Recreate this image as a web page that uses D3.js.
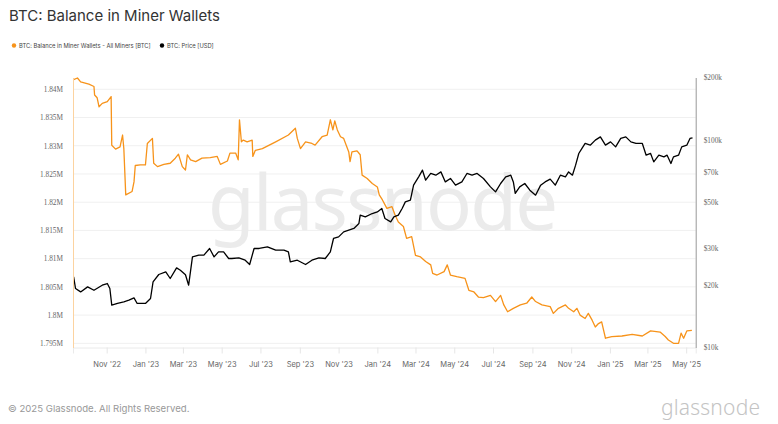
<!DOCTYPE html>
<html>
<head>
<meta charset="utf-8">
<script src="https://cdn.jsdelivr.net/npm/d3@7"></script>
<style>
  body { margin: 0; background: #fff; }
</style>
</head>
<body>
<div id="chart"></div>
<script>
"use strict";

// BTC held in miner wallets (left axis)
const balanceDates = [
    "2022-09-10", "2022-09-16", "2022-09-21", "2022-10-04", "2022-10-12", "2022-10-13",
    "2022-10-17", "2022-10-20", "2022-10-25", "2022-11-02", "2022-11-08", "2022-11-09",
    "2022-11-15", "2022-11-22", "2022-11-26", "2022-11-28", "2022-12-01", "2022-12-11",
    "2022-12-14", "2022-12-16", "2022-12-24", "2023-01-01", "2023-01-04", "2023-01-12",
    "2023-01-14", "2023-01-20", "2023-01-30", "2023-02-09", "2023-02-17", "2023-02-22",
    "2023-02-28", "2023-03-05", "2023-03-08", "2023-03-13", "2023-03-21", "2023-03-31",
    "2023-04-13", "2023-04-24", "2023-04-29", "2023-05-10", "2023-05-14", "2023-05-23",
    "2023-05-27", "2023-05-29", "2023-06-01", "2023-06-04", "2023-06-10", "2023-06-18",
    "2023-06-19", "2023-06-23", "2023-07-04", "2023-07-25", "2023-08-14", "2023-08-25",
    "2023-08-28", "2023-09-02", "2023-09-10", "2023-09-20", "2023-09-25", "2023-10-06",
    "2023-10-14", "2023-10-19", "2023-10-23", "2023-10-26", "2023-10-30", "2023-11-04",
    "2023-11-09", "2023-11-13", "2023-11-17", "2023-11-19", "2023-11-22", "2023-11-30",
    "2023-12-05", "2023-12-08", "2023-12-16", "2023-12-24", "2024-01-01", "2024-01-04",
    "2024-01-09", "2024-01-16", "2024-01-24", "2024-01-29", "2024-02-03", "2024-02-11",
    "2024-02-16", "2024-02-24", "2024-03-01", "2024-03-09", "2024-03-17", "2024-03-25",
    "2024-03-28", "2024-04-04", "2024-04-15", "2024-04-20", "2024-04-25", "2024-05-05",
    "2024-05-18", "2024-05-24", "2024-06-01", "2024-06-08", "2024-06-16", "2024-06-27",
    "2024-07-05", "2024-07-13", "2024-07-18", "2024-07-24", "2024-08-02", "2024-08-13",
    "2024-08-23", "2024-08-31", "2024-09-06", "2024-09-16", "2024-09-29", "2024-10-04",
    "2024-10-12", "2024-10-23", "2024-10-28", "2024-11-05", "2024-11-10", "2024-11-15",
    "2024-11-23", "2024-11-28", "2024-12-04", "2024-12-09", "2024-12-14", "2024-12-19",
    "2024-12-25", "2025-01-04", "2025-01-20", "2025-02-05", "2025-02-21", "2025-03-06",
    "2025-03-21", "2025-03-29", "2025-04-03", "2025-04-11", "2025-04-19", "2025-04-23",
    "2025-04-27", "2025-05-02", "2025-05-10"
];
const balanceValues = [
    1841700, 1842000, 1841300, 1840900, 1840500, 1839000,
    1838500, 1836900, 1837500, 1837800, 1838700, 1830100,
    1829400, 1829800, 1831900, 1829500, 1821300, 1821900,
    1823600, 1826500, 1826600, 1826600, 1830400, 1831300,
    1826900, 1826300, 1826700, 1826900, 1827800, 1828500,
    1826300, 1825700, 1828400, 1827500, 1827200, 1827800,
    1827900, 1828100, 1826700, 1827300, 1828700, 1828700,
    1827500, 1834600, 1830700, 1831000, 1830700, 1831000,
    1828100, 1829200, 1829500, 1830700, 1831900, 1833100,
    1831300, 1829500, 1830700, 1830400, 1830100, 1831600,
    1831900, 1834600, 1832800, 1834400, 1832800, 1831600,
    1831300, 1830100, 1828900, 1827200, 1828900, 1829100,
    1828400, 1824800, 1824200, 1823300, 1822700, 1821300,
    1820400, 1818900, 1819200, 1817700, 1816500, 1815700,
    1813600, 1813900, 1810600, 1810300, 1809500, 1808900,
    1807400, 1807100, 1807700, 1808900, 1807100, 1806800,
    1806500, 1804400, 1804100, 1803200, 1803100, 1803500,
    1802400, 1803500, 1801800, 1800600, 1801200, 1801800,
    1802100, 1803200, 1802400, 1801800, 1801500, 1800300,
    1801200, 1801800, 1801200, 1800600, 1801200, 1800000,
    1799400, 1800300, 1799100, 1797900, 1798500, 1798800,
    1795900, 1796200, 1796300, 1796600, 1796300, 1797200,
    1797000, 1796200, 1795600, 1795000, 1795000, 1796800,
    1795900, 1797200, 1797300
];

// BTC price in USD (right axis, log)
const priceDates = [
    "2022-09-10", "2022-09-13", "2022-09-21", "2022-10-02", "2022-10-12", "2022-10-25",
    "2022-11-02", "2022-11-06", "2022-11-09", "2022-11-18", "2022-11-28", "2022-12-06",
    "2022-12-14", "2022-12-19", "2023-01-01", "2023-01-09", "2023-01-13", "2023-01-22",
    "2023-02-02", "2023-02-09", "2023-02-19", "2023-02-25", "2023-03-05", "2023-03-10",
    "2023-03-16", "2023-03-26", "2023-04-03", "2023-04-12", "2023-04-19", "2023-04-26",
    "2023-05-04", "2023-05-12", "2023-05-17", "2023-05-28", "2023-06-07", "2023-06-14",
    "2023-06-21", "2023-06-29", "2023-07-12", "2023-07-25", "2023-08-07", "2023-08-14",
    "2023-08-17", "2023-08-28", "2023-09-10", "2023-09-20", "2023-10-01", "2023-10-11",
    "2023-10-19", "2023-10-24", "2023-11-01", "2023-11-09", "2023-11-17", "2023-11-25",
    "2023-12-03", "2023-12-05", "2023-12-13", "2023-12-24", "2024-01-01", "2024-01-08",
    "2024-01-13", "2024-01-22", "2024-01-27", "2024-02-03", "2024-02-09", "2024-02-14",
    "2024-02-22", "2024-02-27", "2024-03-06", "2024-03-12", "2024-03-17", "2024-03-25",
    "2024-04-02", "2024-04-10", "2024-04-17", "2024-04-25", "2024-05-03", "2024-05-13",
    "2024-05-21", "2024-05-29", "2024-06-06", "2024-06-16", "2024-06-27", "2024-07-05",
    "2024-07-13", "2024-07-21", "2024-07-29", "2024-08-02", "2024-08-05", "2024-08-12",
    "2024-08-20", "2024-08-28", "2024-09-06", "2024-09-14", "2024-09-21", "2024-09-29",
    "2024-10-07", "2024-10-15", "2024-10-23", "2024-10-28", "2024-11-03", "2024-11-08",
    "2024-11-13", "2024-11-18", "2024-11-23", "2024-12-01", "2024-12-09", "2024-12-17",
    "2024-12-25", "2025-01-02", "2025-01-10", "2025-01-18", "2025-01-26", "2025-02-03",
    "2025-02-11", "2025-02-21", "2025-02-27", "2025-03-06", "2025-03-11", "2025-03-19",
    "2025-03-27", "2025-04-01", "2025-04-07", "2025-04-11", "2025-04-19", "2025-04-24",
    "2025-05-02", "2025-05-07", "2025-05-11"
];
const priceValues = [
    21890, 19240, 18530, 19590, 18880, 19960,
    20340, 19240, 16000, 16300, 16590, 16900,
    17340, 16300, 16300, 17220, 20700, 22480,
    23130, 21500, 24180, 23580, 22400, 19960,
    27330, 27850, 27850, 30000, 27330, 28880,
    28880, 26850, 26850, 27030, 26340, 25120,
    30000, 30000, 30540, 29440, 29440, 28880,
    25850, 26340, 25120, 26340, 27030, 26850,
    28880, 33520, 34120, 36070, 36750, 37460,
    39600, 43420, 42600, 44210, 45000, 46750,
    41840, 40300, 42600, 43420, 46750, 50300,
    51260, 60570, 66410, 71520, 64000, 68950,
    67660, 70180, 62800, 65240, 60570, 62800,
    68950, 67660, 68950, 65240, 59430, 56230,
    61700, 66410, 67660, 62800, 55240, 59430,
    61700, 57290, 54200, 60570, 62800, 64740,
    60570, 67660, 66410, 70180, 67660, 75620,
    86080, 91000, 96190, 94400, 99800, 103500,
    94400, 97900, 92640, 101700, 103500, 97900,
    96190, 96190, 84470, 86080, 78430, 84470,
    82900, 84470, 77050, 82900, 84470, 92640,
    94400, 101700, 102400
];

const balanceTicks = [1795000, 1800000, 1805000, 1810000, 1815000,
                      1820000, 1825000, 1830000, 1835000, 1840000];
const priceTicks = [10000, 20000, 30000, 50000, 70000, 100000, 200000];
const legendLabels = ["BTC: Balance in Miner Wallets - All Miners [BTC]", "BTC: Price [USD]"];

const W = 778;
const H = 424;
const margin = {
    top   : 77.5,
    right : 82.3,
    bottom: 76.5,
    left  : 73
};
const width = W - margin.left - margin.right;
const height = H - margin.top - margin.bottom;
const orange = "#f7931a";

const parse = d3.utcParse("%Y-%m-%d");
const balance = balanceDates.map((d, i) => ({ date: parse(d), value: balanceValues[i] }));
const price = priceDates.map((d, i) => ({ date: parse(d), value: priceValues[i] }));

const xScale = d3.scaleUtc()
                 .domain([parse("2022-09-09"), parse("2025-05-16")])
                 .range([0, width]);
const yLeft = d3.scaleLinear()
                .domain([1794260, 1842090])
                .range([height, 0]);
const yRight = d3.scaleLog()
                 .domain([10000, 200000])
                 .range([height, 0]);

const svg = d3.select("#chart").append("svg")
              .attr("width", W)
              .attr("height", H)
              .style("font-family", "Inter, 'Noto Sans', sans-serif");

svg.append("text")
   .attr("x", 9)
   .attr("y", 21)
   .attr("font-size", 15)
   .attr("fill", "#333")
   .text("BTC: Balance in Miner Wallets");

// legend
const legend = svg.append("g")
                  .attr("transform", "translate(14, 45.5)");
[0, 148].forEach((dx, i) => {
    const item = legend.append("g").attr("transform", `translate(${dx}, 0)`);
    item.append("circle")
        .attr("r", 2.2)
        .attr("fill", i === 0 ? orange : "#000");
    item.append("text")
        .attr("x", 5)
        .attr("y", 2)
        .attr("font-size", 5.8)
        .attr("fill", "#444")
        .text(legendLabels[i]);
});

const plot = svg.append("g")
                .attr("transform", `translate(${margin.left}, ${margin.top})`);

// horizontal grid
plot.append("g")
    .selectAll("line")
    .data(balanceTicks)
    .join("line")
    .attr("x1", 0)
    .attr("x2", width)
    .attr("y1", d => yLeft(d))
    .attr("y2", d => yLeft(d))
    .attr("stroke", "#f0f0f0");

// watermark
plot.append("text")
    .attr("x", 135)
    .attr("y", 152)
    .attr("font-size", 76)
    .attr("textLength", 350)
    .attr("fill", "#ebebeb")
    .style("font-family", "'Noto Sans', sans-serif")
    .text("glassnode");

const balanceLine = d3.line()
                      .x(d => xScale(d.date))
                      .y(d => yLeft(d.value));
const priceLine = d3.line()
                    .x(d => xScale(d.date))
                    .y(d => yRight(d.value));

plot.append("path")
    .datum(balance)
    .attr("fill", "none")
    .attr("stroke", orange)
    .attr("stroke-width", 1.3)
    .attr("stroke-linejoin", "round")
    .attr("d", balanceLine);

plot.append("path")
    .datum(price)
    .attr("fill", "none")
    .attr("stroke", "#000")
    .attr("stroke-width", 1.3)
    .attr("stroke-linejoin", "round")
    .attr("d", priceLine);

// axes
const xAxis = plot.append("g")
                  .attr("transform", `translate(0, ${height})`)
                  .call(d3.axisBottom(xScale)
                          .ticks(d3.utcMonth.every(2))
                          .tickFormat(d3.utcFormat("%b '%y"))
                          .tickSize(6)
                          .tickPadding(8));
xAxis.select(".domain").attr("stroke", "#eaeaea");
xAxis.selectAll(".tick line").attr("stroke", "#e6e6e6");
xAxis.selectAll(".tick text")
     .attr("fill", "#666")
     .attr("font-size", 7.5)
     .style("font-family", "Inter, sans-serif");

const leftAxis = plot.append("g")
                     .call(d3.axisLeft(yLeft)
                             .tickValues(balanceTicks)
                             .tickFormat(d => d3.format(".4~")(d / 1e6) + "M")
                             .tickSize(0)
                             .tickPadding(10));
leftAxis.select(".domain").attr("stroke", "#fcd3a0");
leftAxis.selectAll(".tick text")
        .attr("fill", "#666")
        .attr("font-size", 7.3)
        .style("font-family", "'Liberation Serif', serif");

const rightAxis = plot.append("g")
                      .attr("transform", `translate(${width}, 0)`)
                      .call(d3.axisRight(yRight)
                              .tickValues(priceTicks)
                              .tickFormat(d => "$" + d / 1000 + "k")
                              .tickSize(0)
                              .tickPadding(8));
rightAxis.select(".domain").attr("stroke", "#999");
rightAxis.selectAll(".tick text")
         .attr("fill", "#666")
         .attr("font-size", 7.3)
         .style("font-family", "'Liberation Serif', serif");

// footer
svg.append("text")
   .attr("x", 8)
   .attr("y", 412)
   .attr("font-size", 9.6)
   .attr("fill", "#999")
   .text("© 2025 Glassnode. All Rights Reserved.");

svg.append("text")
   .attr("x", 661)
   .attr("y", 415)
   .attr("font-size", 21)
   .attr("font-weight", 300)
   .attr("textLength", 99)
   .attr("fill", "#c4c4c4")
   .style("font-family", "'Noto Sans', sans-serif")
   .text("glassnode");
</script>
</body>
</html>
